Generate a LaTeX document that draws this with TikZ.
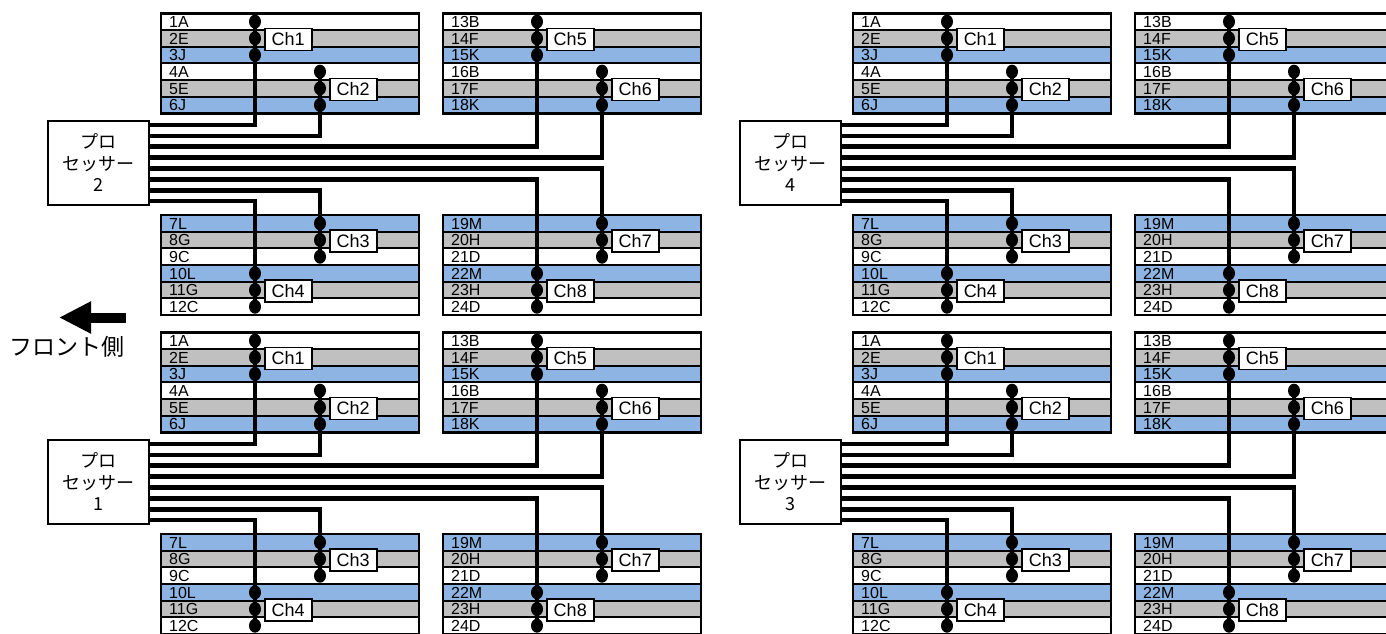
\documentclass[tikz,border=0pt]{standalone}
\usepackage{fontspec}
\setmainfont{Liberation Sans}
\newfontfamily\jpfont{Noto Sans CJK JP}
\usetikzlibrary{shapes.geometric,arrows.meta}

\definecolor{dimmgray}{HTML}{C0C0C0}
\definecolor{dimmblue}{HTML}{8DB4E2}

\tikzset{
  rowbox/.style={draw=black, line width=2pt},
  framebox/.style={draw=black, line width=2.5pt},
  rowtext/.style={anchor=base west, inner sep=0pt, font=\fontsize{16}{16}\selectfont},
  chdot/.style={ellipse, fill=black, inner sep=0pt, minimum width=12pt, minimum height=14pt},
  chlabel/.style={draw=black, fill=white, line width=1.5pt, anchor=west, inner sep=0pt,
    minimum width=47pt, minimum height=22pt, font=\fontsize{18}{18}\selectfont},
  procbox/.style={draw=black, fill=white, line width=2.5pt, minimum width=101pt,
    minimum height=84pt, align=center, font=\jpfont\fontsize{18}{21.5}\selectfont},
  bus/.style={line width=4.5pt},
}

% bank of six slots: left x, top y, rows
\newcommand\dimmbank[3]{%
  \foreach \lab/\col [count=\i] in {#3} {
    \path[rowbox, fill=\col] (#1, #2+16.67*\i-16.67) rectangle ++(258,16.67);
    \node[rowtext] at (#1+8, #2+16.67*\i-2.6) {\lab};
  }
  \draw[framebox] (#1,#2) rectangle ++(258,100);
}

% channel: name, x, top y of bank, first row, label
\newcommand\dimmchan[5]{%
  \foreach \k in {1,2,3}
    \node[chdot] (#1-\k) at (#2, #3+16.67*#4+16.67*\k-25) {};
  \node[chlabel] (#1-l) at (#2+9, #3+16.67*#4+8.33+1) {#5};
}

\begin{document}
\begin{tikzpicture}[x=1pt, y=-1pt]
\useasboundingbox (0,0) rectangle (1386,633);

\foreach \qx/\qy/\pn in {0/0/2, 0/319/1, 692/0/4, 692/319/3} {
  \begin{scope}[shift={(\qx,\qy)}, name prefix=q\pn-]
    % slots
    \dimmbank{161}{13.3}{1A/white,2E/dimmgray,3J/dimmblue,4A/white,5E/dimmgray,6J/dimmblue}
    \dimmbank{443}{13.3}{13B/white,14F/dimmgray,15K/dimmblue,16B/white,17F/dimmgray,18K/dimmblue}
    \dimmbank{161}{215}{7L/dimmblue,8G/dimmgray,9C/white,10L/dimmblue,11G/dimmgray,12C/white}
    \dimmbank{443}{215}{19M/dimmblue,20H/dimmgray,21D/white,22M/dimmblue,23H/dimmgray,24D/white}

    % channels
    \dimmchan{c1}{255}{13.3}{1}{Ch1}
    \dimmchan{c2}{320}{13.3}{4}{Ch2}
    \dimmchan{c5}{537}{13.3}{1}{Ch5}
    \dimmchan{c6}{602}{13.3}{4}{Ch6}
    \dimmchan{c3}{320}{215}{1}{Ch3}
    \dimmchan{c4}{255}{215}{4}{Ch4}
    \dimmchan{c7}{602}{215}{1}{Ch7}
    \dimmchan{c8}{537}{215}{4}{Ch8}

    % processor
    \node[procbox] (proc) at (98.5,163) {プロ\\セッサー\\\pn};
    \foreach \k in {1,...,8}
      \path (proc.east) ++(0,10.9*\k-49) coordinate (o\k);

    \foreach \k/\cn/\e in {1/c1/1, 2/c2/1, 3/c5/1, 4/c6/1, 5/c7/3, 6/c8/3, 7/c3/3, 8/c4/3}
      \draw[bus] (o\k) -| (\cn-\e.center);
  \end{scope}
}

% front side
\node[font=\jpfont\fontsize{23}{23}\selectfont] (front) at (67,347) {フロント側};
\coordinate (fronttail) at (126,317.5);
\coordinate (fronttip) at (59,317.5);
\draw[line width=10pt, -{Triangle[length=32pt,width=30pt]}] (fronttail) -- (fronttip);
\end{tikzpicture}
\end{document}
